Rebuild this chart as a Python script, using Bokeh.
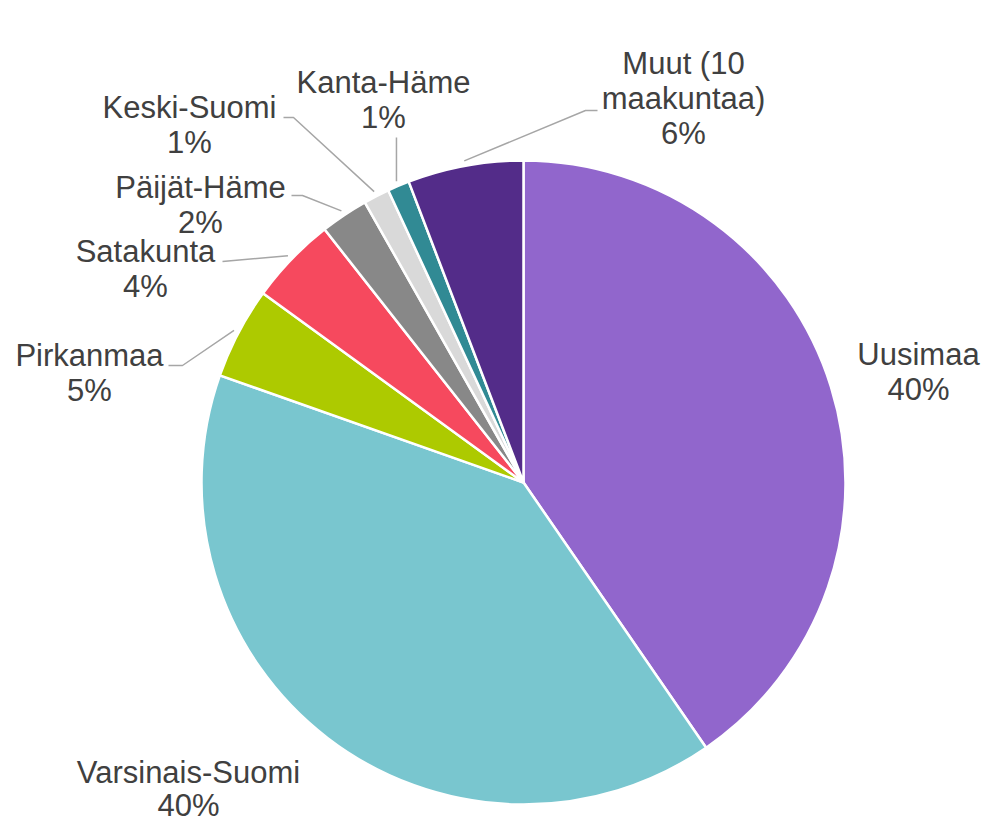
import math
from bokeh.plotting import figure
from bokeh.models import Range1d, ColumnDataSource
from bokeh.core.properties import value
from bokeh.embed import file_html
from bokeh.resources import INLINE

# ---- data ----
regions = ["Uusimaa", "Varsinais-Suomi", "Pirkanmaa", "Satakunta",
           "Päijät-Häme", "Keski-Suomi", "Kanta-Häme", "Muut (10\nmaakuntaa)"]
shares = [40.4, 40.0, 4.6, 4.4, 2.4, 1.3, 1.1, 5.8]
colors = ["#9166CC", "#79C6CF", "#ADCA00", "#F6495E",
          "#888888", "#D9D9D9", "#318A94", "#532C89"]

W, H = 987, 822
def X(px): return px
def Y(py): return H - py

p = figure(width=W, height=H, output_backend="svg", toolbar_location=None,
           x_range=Range1d(0, W), y_range=Range1d(0, H), min_border=0)
p.axis.visible = False
p.grid.visible = False
p.outline_line_color = None
p.background_fill_color = "white"
p.border_fill_color = "white"

cx, cy, R = X(523), Y(482), 322
total = sum(shares)
starts, ends, mids = [], [], []
acc = 0.0
for v in shares:
    a0 = acc / total * 2 * math.pi
    acc += v
    a1 = acc / total * 2 * math.pi
    starts.append(math.pi / 2 - a0)
    ends.append(math.pi / 2 - a1)
    mids.append((a0 + a1) / 2)

src = ColumnDataSource(dict(start=starts, end=ends, color=colors))
p.wedge(x=cx, y=cy, radius=R, start_angle="start", end_angle="end",
        direction="clock", fill_color="color", line_color="white",
        line_width=2.5, source=src)

# ---- labels (layout: first-line centre in page px) ----
label_pos = [(918, 354), (188, 772), (89, 355), (145, 251),
             (200, 187), (189, 107), (383, 82), (683, 63)]
FONT = value("Liberation Sans")
for i, (name, v, (lx, ly)) in enumerate(zip(regions, shares, label_pos)):
    LS = 33 if i == 1 else 35
    lines = name.split("\n") + [f"{round(v)}%"]
    xs = [X(lx)] * len(lines)
    ys = [Y(ly + k * LS) for k in range(len(lines))]
    p.text(x=xs, y=ys, text=lines, text_font=FONT, text_font_size="31px",
           text_color="#404040", text_align="center", text_baseline="middle")

# ---- leader lines: text-side anchor (page px), optional elbow stub ----
leaders = {
    2: ((168, 365), 14),
    3: ((222, 261), 0),
    4: ((291, 195), 11),
    5: ((283, 117), 10),
    7: ((597, 110), -12),
}
for i, ((ax, ay), stub) in leaders.items():
    m = mids[i]
    ex = cx + (R + 5) * math.sin(m)
    ey = cy + (R + 5) * math.cos(m)
    xs = [X(ax)]
    ys = [Y(ay)]
    if stub:
        xs.append(X(ax + stub)); ys.append(Y(ay))
    xs.append(ex); ys.append(ey)
    p.line(xs, ys, line_color="#A6A6A6", line_width=1.5)

# Kanta-Häme vertical leader
m = mids[6]
ex = cx + (R + 5) * math.sin(m)
ey = cy + (R + 5) * math.cos(m)
p.line([ex, ex], [Y(137), ey], line_color="#A6A6A6", line_width=1.5)

open("out.html", "w").write(file_html(p, INLINE))
